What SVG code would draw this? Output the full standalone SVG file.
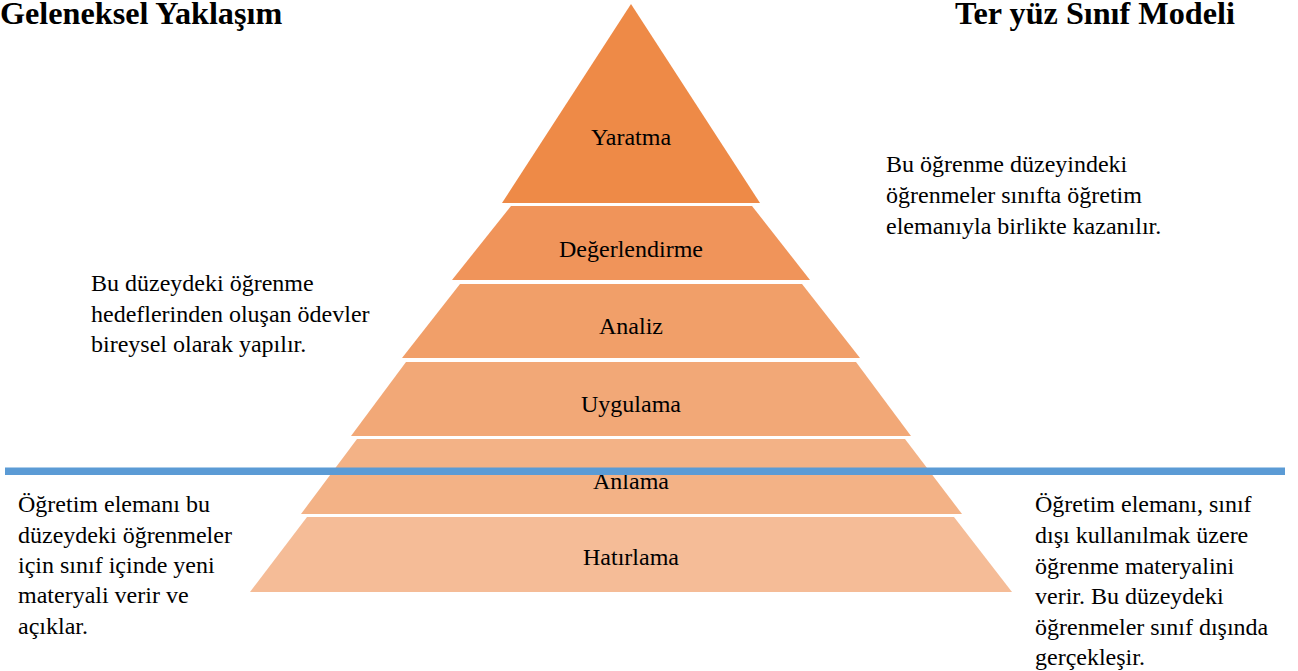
<svg xmlns="http://www.w3.org/2000/svg" width="1298" height="671" viewBox="0 0 1298 671">
<style>
text{font-family:'Liberation Serif','Times New Roman',Times,'DejaVu Serif',serif}
.title{font-weight:bold;font-size:32.2px;fill:#000}
.lbl{font-size:24px;fill:#000;text-anchor:middle}
.note{font-size:24px;fill:#000}
</style>
<rect width="1298" height="671" fill="#fff"/>
<g id="title-left"><text class="title" x="0" y="24">Geleneksel Yaklaşım</text></g>
<g id="title-right"><text class="title" x="955" y="24">Ter yüz Sınıf Modeli</text></g>

<g id="layer-yaratma">
<polygon points="631,4 760,203 502,203" fill="#EE8A47"/>
<text class="lbl" x="631" y="145">Yaratma</text>
</g>
<g id="layer-degerlendirme">
<polygon points="511,206 752,206 810,280 452,280" fill="#F0945A"/>
<text class="lbl" x="631" y="257">Değerlendirme</text>
</g>
<g id="layer-analiz">
<polygon points="460,284 802,284 860,358 402,358" fill="#F19F69"/>
<text class="lbl" x="631" y="334">Analiz</text>
</g>
<g id="layer-uygulama">
<polygon points="406,362 856,362 911,436 351,436" fill="#F2A877"/>
<text class="lbl" x="631" y="412">Uygulama</text>
</g>
<g id="layer-anlama">
<polygon points="357,439 905,439 962,514 301,514" fill="#F3B286"/>
<text class="lbl" x="631" y="489">Anlama</text>
</g>
<g id="layer-hatirlama">
<polygon points="307,517 954,517 1012,592 250,592" fill="#F5BC97"/>
<text class="lbl" x="631" y="565">Hatırlama</text>
</g>

<g id="connectors">
<line x1="5" y1="471.3" x2="1285" y2="471.3" stroke="#5B9BD5" stroke-width="7.5"/>
</g>

<g id="note-left-top">
<text class="note" x="91" y="291">Bu düzeydeki öğrenme</text>
<text class="note" x="91" y="322">hedeflerinden oluşan ödevler</text>
<text class="note" x="91" y="352">bireysel olarak yapılır.</text>
</g>
<g id="note-right-top">
<text class="note" x="886" y="172">Bu öğrenme düzeyindeki</text>
<text class="note" x="886" y="203">öğrenmeler sınıfta öğretim</text>
<text class="note" x="886" y="234">elemanıyla birlikte kazanılır.</text>
</g>
<g id="note-left-bottom">
<text class="note" x="18" y="512">Öğretim elemanı bu</text>
<text class="note" x="18" y="543">düzeydeki öğrenmeler</text>
<text class="note" x="18" y="573">için sınıf içinde yeni</text>
<text class="note" x="18" y="603">materyali verir ve</text>
<text class="note" x="18" y="634">açıklar.</text>
</g>
<g id="note-right-bottom">
<text class="note" x="1035" y="512">Öğretim elemanı, sınıf</text>
<text class="note" x="1035" y="543">dışı kullanılmak üzere</text>
<text class="note" x="1035" y="574">öğrenme materyalini</text>
<text class="note" x="1035" y="604">verir. Bu düzeydeki</text>
<text class="note" x="1035" y="635">öğrenmeler sınıf dışında</text>
<text class="note" x="1035" y="665">gerçekleşir.</text>
</g>
</svg>
